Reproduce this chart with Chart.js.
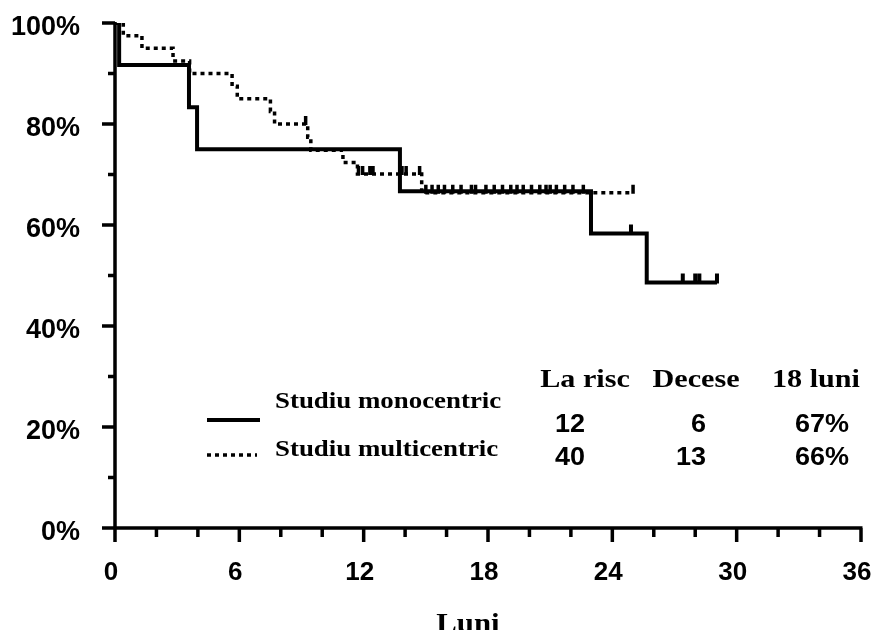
<!DOCTYPE html>
<html>
<head>
<meta charset="utf-8">
<title>Supravietuire - Luni</title>
<script src="https://cdn.jsdelivr.net/npm/chart.js@4.4.1/dist/chart.umd.min.js"></script>
<style>
  html, body { margin: 0; padding: 0; background: #fff; }
  #wrap { width: 876px; height: 630px; }
</style>
</head>
<body>
<div id="wrap"><canvas id="km" width="876" height="630"></canvas></div>
<script>
// Kaplan-Meier curves, values (months, % surviving)

// Studiu monocentric (solid line)
const monoTime = [0, 0.2, 3.57, 3.96, 13.75, 22.97, 25.66, 29.05];
const monoSurv = [100, 91.7, 83.3, 75.0, 66.7, 58.3, 48.6, 48.6];
const monoCensor = [24.9, 27.4, 28.0, 28.2, 29.05];

// Studiu multicentric (dotted line)
const multiTime = [0, 0.4, 1.3, 2.8, 3.6, 5.65, 5.9, 7.5, 7.7, 9.3, 9.45, 11.0, 11.7, 14.8, 25.0];
const multiSurv = [100, 97.5, 95, 92.5, 90, 87.5, 85, 82.5, 80, 77.4, 74.8, 72.4, 70.1, 66.4, 66.4];
const multiCensor = [9.2, 11.75, 11.95, 12.3, 12.45, 13.85, 14.05, 14.7, 15.0, 15.3, 15.6, 15.9,
  16.3, 16.7, 17.2, 17.4, 17.9, 18.3, 18.7, 19.1, 19.4, 19.7, 20.1, 20.5, 20.8, 21.0, 21.3,
  21.7, 22.1, 22.6, 25.0];

// axis ticks
const xMajor = [0, 6, 12, 18, 24, 30, 36];
const yMajor = [0, 20, 40, 60, 80, 100];

// legend + table
const seriesNames = ['Studiu monocentric', 'Studiu multicentric'];
const tableHeaders = ['La risc', 'Decese', '18 luni'];
const atRisk = ['12', '40'];
const deaths = ['6', '13'];
const surv18 = ['67%', '66%'];

const SANS = '"Liberation Sans", Arial, sans-serif';
const SERIF = '"Liberation Serif", "Times New Roman", serif';

function toPoints(t, s) {
  return t.map((x, i) => ({ x: x, y: s[i] }));
}

// survival value of a step curve at time t
function survAt(times, surv, t) {
  let v = surv[0];
  for (let i = 0; i < times.length; i++) {
    if (times[i] <= t) v = surv[i];
  }
  return v;
}

// the original text is a bit wider than the fonts we have, so stretch it
function wideText(ctx, text, x, y, sx, align) {
  ctx.save();
  ctx.translate(x, y);
  ctx.scale(sx, 1);
  ctx.textAlign = align;
  ctx.fillText(text, 0, 0);
  ctx.restore();
}

// axis lines + major/minor tick marks, drawn from the scales
const axesPlugin = {
  id: 'axesPlugin',
  afterDraw(chart) {
    const ctx = chart.ctx;
    const xs = chart.scales.x;
    const ys = chart.scales.y;
    const x0 = xs.getPixelForValue(0);
    const y0 = ys.getPixelForValue(0);
    ctx.save();
    ctx.strokeStyle = '#000';
    ctx.lineWidth = 3.5;
    ctx.lineCap = 'butt';
    ctx.beginPath();
    // y axis, runs a bit past the x axis
    ctx.moveTo(x0, ys.getPixelForValue(100) - 1);
    ctx.lineTo(x0, y0 + 14);
    // x axis
    ctx.moveTo(x0 - 13, y0);
    ctx.lineTo(xs.getPixelForValue(36) + 1.5, y0);
    xs.ticks.forEach(tk => {
      const px = xs.getPixelForValue(tk.value);
      const len = xMajor.includes(tk.value) ? 14 : 9;
      ctx.moveTo(px, y0);
      ctx.lineTo(px, y0 + len);
    });
    ys.ticks.forEach(tk => {
      const py = ys.getPixelForValue(tk.value);
      const len = yMajor.includes(tk.value) ? 13 : 7;
      ctx.moveTo(x0, py);
      ctx.lineTo(x0 - len, py);
    });
    ctx.stroke();
    ctx.restore();
  }
};

// censor marks (small upward ticks on the curves)
const censorPlugin = {
  id: 'censorPlugin',
  afterDatasetsDraw(chart) {
    const ctx = chart.ctx;
    const xs = chart.scales.x;
    const ys = chart.scales.y;
    ctx.save();
    ctx.strokeStyle = '#000';
    const draw = (list, times, surv, w, h) => {
      ctx.lineWidth = w;
      ctx.beginPath();
      list.forEach(t => {
        const px = xs.getPixelForValue(t);
        const py = ys.getPixelForValue(survAt(times, surv, t));
        ctx.moveTo(px, py + 1);
        ctx.lineTo(px, py - h);
      });
      ctx.stroke();
    };
    draw(monoCensor, monoTime, monoSurv, 4, 9);
    draw(multiCensor, multiTime, multiSurv, 3.5, 8);
    ctx.restore();
  }
};

// legend, small table and axis title
const textPlugin = {
  id: 'textPlugin',
  afterDraw(chart) {
    const ctx = chart.ctx;
    ctx.save();
    ctx.fillStyle = '#000';
    ctx.strokeStyle = '#000';

    // legend samples
    ctx.lineWidth = 4;
    ctx.beginPath();
    ctx.moveTo(207, 420);
    ctx.lineTo(260, 420);
    ctx.stroke();
    ctx.lineWidth = 3.5;
    ctx.setLineDash([4, 4]);
    ctx.beginPath();
    ctx.moveTo(207, 455);
    ctx.lineTo(257, 455);
    ctx.stroke();
    ctx.setLineDash([]);

    ctx.textBaseline = 'alphabetic';
    ctx.font = 'bold 24px ' + SERIF;
    wideText(ctx, seriesNames[0], 275, 408, 1.12, 'left');
    wideText(ctx, seriesNames[1], 275, 456, 1.12, 'left');

    // table headers
    ctx.font = 'bold 26px ' + SERIF;
    wideText(ctx, tableHeaders[0], 585, 387, 1.16, 'center');
    wideText(ctx, tableHeaders[1], 696, 387, 1.16, 'center');
    wideText(ctx, tableHeaders[2], 816, 387, 1.16, 'center');

    ctx.font = 'bold 25px ' + SANS;
    const rowsY = [432, 465];
    for (let i = 0; i < 2; i++) {
      wideText(ctx, atRisk[i], 570, rowsY[i], 1.08, 'center');
      wideText(ctx, deaths[i], 706, rowsY[i], 1.08, 'right');
      wideText(ctx, surv18[i], 849, rowsY[i], 1.08, 'right');
    }

    // x axis title (cut by the bottom edge in the original)
    ctx.font = 'bold 28px ' + SERIF;
    wideText(ctx, 'Luni', 468, 632, 1.1, 'center');
    ctx.restore();
  }
};

const ctx = document.getElementById('km').getContext('2d');
const chart = new Chart(ctx, {
  type: 'line',
  data: {
    datasets: [
      {
        label: seriesNames[0],
        data: toPoints(monoTime, monoSurv),
        stepped: true,
        borderColor: '#000',
        borderWidth: 4,
        pointRadius: 0,
        fill: false
      },
      {
        label: seriesNames[1],
        data: toPoints(multiTime, multiSurv),
        stepped: true,
        borderColor: '#000',
        borderWidth: 3.5,
        borderDash: [4, 4],
        pointRadius: 0,
        fill: false
      }
    ]
  },
  options: {
    responsive: false,
    animation: false,
    layout: { padding: { top: 23, right: 15, left: 0, bottom: 0 } },
    plugins: { legend: { display: false }, tooltip: { enabled: false } },
    scales: {
      x: {
        type: 'linear',
        min: 0, max: 36,
        grid: { display: false, drawTicks: false },
        border: { display: false },
        ticks: {
          stepSize: 2,
          autoSkip: false,
          maxRotation: 0,
          padding: 29,
          labelOffset: -4,
          color: '#000',
          font: { family: SANS, size: 26, weight: 'bold' },
          callback: v => (xMajor.includes(v) ? String(v) : '')
        },
        afterFit: s => {
          s.height = 102;
          s.paddingLeft = 0;
          s.paddingRight = 0;
        }
      },
      y: {
        min: 0, max: 100,
        grid: { display: false, drawTicks: false },
        border: { display: false },
        ticks: {
          stepSize: 10,
          autoSkip: false,
          padding: 35,
          labelOffset: 5,
          color: '#000',
          font: { family: SANS, size: 27, weight: 'bold' },
          callback: v => (yMajor.includes(v) ? v + '%' : '')
        },
        afterFit: s => {
          s.width = 115;
          s.paddingTop = 0;
          s.paddingBottom = 0;
        }
      }
    }
  },
  plugins: [axesPlugin, censorPlugin, textPlugin]
});
</script>
</body>
</html>
